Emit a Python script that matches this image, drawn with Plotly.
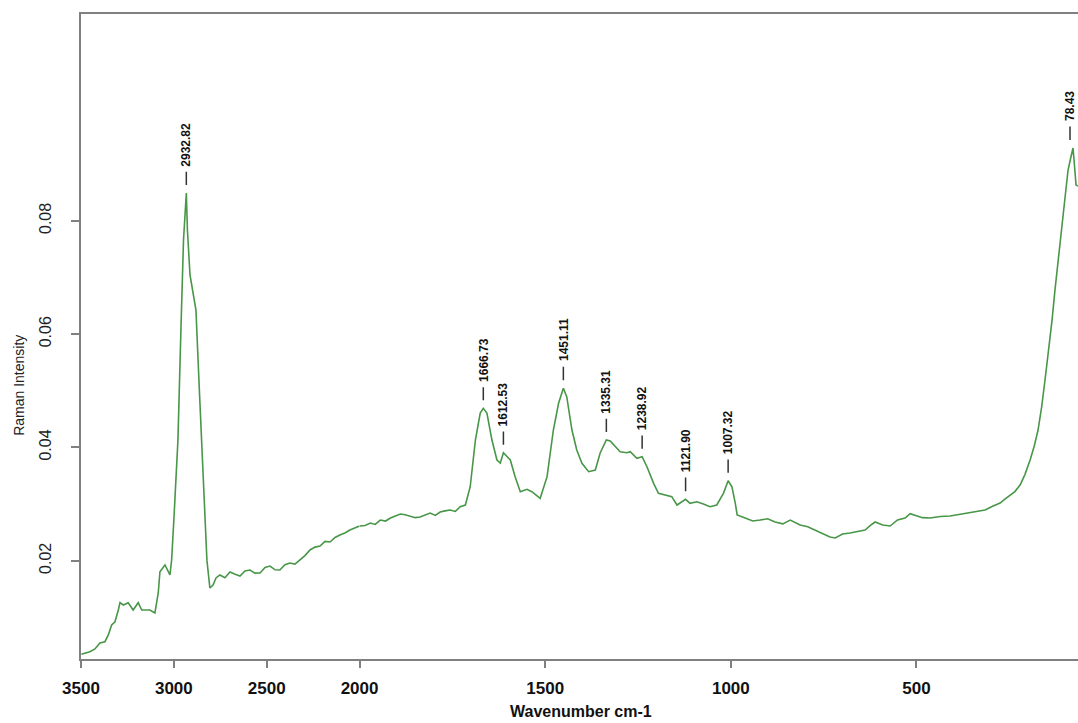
import plotly.graph_objects as go

# ---------------- data ----------------
wavenumber = [3498, 3452, 3425, 3398, 3371, 3353, 3335, 3317, 3299, 3290, 3272, 3246, 3219, 3192, 3173,
              3129, 3102, 3084, 3075, 3048, 3021, 3012, 3000, 2978, 2962, 2948, 2932.82, 2927, 2913, 2897,
              2881, 2865, 2843, 2822, 2806, 2789, 2773, 2752, 2725, 2698, 2670, 2644, 2617, 2590, 2563,
              2536, 2509, 2482, 2455, 2429, 2402, 2375, 2348, 2321, 2294, 2267, 2240, 2213, 2186, 2159,
              2132, 2106, 2079, 2052, 2026, 2000, 1985, 1971, 1958, 1944, 1930, 1917, 1903, 1890, 1877,
              1863, 1850, 1837, 1823, 1810, 1796, 1783, 1770, 1756, 1742, 1729, 1715, 1702, 1688, 1675,
              1666.73, 1657, 1643.5, 1630, 1621, 1612.53, 1594, 1581, 1567, 1549, 1536, 1513.5, 1495, 1478,
              1464, 1451.11, 1442, 1428, 1415, 1401, 1383, 1365, 1352, 1335.31, 1325, 1311.5, 1298, 1280,
              1271, 1253, 1238.92, 1226, 1208, 1195, 1177, 1159, 1145, 1121.90, 1110, 1091.5, 1074, 1056,
              1038, 1020, 1007.32, 997, 988, 983, 961.5, 941, 921, 901, 880.7, 860, 840, 827, 813.4, 793,
              773, 760, 746, 733, 719, 699, 679, 659, 638.4, 625, 611.5, 591, 571, 551, 530.7, 517, 504,
              484, 463.4, 436, 409.5, 383, 355.7, 335, 315.3, 295, 274.9, 261, 248, 235, 221, 208, 194,
              183, 172.6, 163, 153.8, 144, 134.9, 127, 118.7, 110, 102.6, 97, 91.8, 85, 78.43, 75.7, 70.3, 65]

intensity = [0.00348, 0.00394, 0.00442, 0.00547, 0.0057, 0.00689, 0.00865, 0.00923, 0.0113, 0.01259,
             0.01218, 0.01259, 0.0113, 0.01259, 0.0113, 0.0113, 0.01077, 0.0143, 0.01806, 0.01924,
             0.01748, 0.02012, 0.02718, 0.0413, 0.06072, 0.0766, 0.0849, 0.07837, 0.07043, 0.0669,
             0.06425, 0.0519, 0.03424, 0.0201, 0.01518, 0.01571, 0.01695, 0.01748, 0.0170, 0.018,
             0.0176, 0.0173, 0.0182, 0.01836, 0.0178, 0.01783, 0.0188, 0.01906, 0.0184, 0.01836,
             0.0193, 0.0196, 0.0194, 0.0201, 0.0209, 0.02189, 0.0224, 0.0226, 0.0234, 0.0233,
             0.0241, 0.02454, 0.0249, 0.02542, 0.0258, 0.02612, 0.0262, 0.02665, 0.0264, 0.02718,
             0.0270, 0.02754, 0.0279, 0.02824, 0.0281, 0.02789, 0.0276, 0.02771, 0.0281, 0.02842,
             0.0280, 0.0286, 0.0288, 0.02895, 0.0287, 0.02953, 0.02983, 0.03306, 0.0413, 0.04607,
             0.0469, 0.04607, 0.0413, 0.03777, 0.03724, 0.03906, 0.03777, 0.03483, 0.03218, 0.0326,
             0.03218, 0.03101, 0.03483, 0.04307, 0.04778, 0.05043, 0.04895, 0.04307, 0.03954, 0.03719,
             0.03571, 0.03601, 0.03901, 0.0413, 0.04113, 0.04012, 0.03924, 0.03906, 0.03924, 0.03807,
             0.03836, 0.03659, 0.03366, 0.0319, 0.0316, 0.0313, 0.02983, 0.03084, 0.03013, 0.03041,
             0.03001, 0.02953, 0.02983, 0.0319, 0.03412, 0.03306, 0.03013, 0.02807, 0.02754, 0.0270,
             0.02718, 0.0274, 0.02683, 0.0265, 0.02718, 0.0268, 0.0263, 0.0260, 0.02542, 0.0250,
             0.02454, 0.0242, 0.02401, 0.0247, 0.02489, 0.0251, 0.02542, 0.0262, 0.02683, 0.0263,
             0.02612, 0.0272, 0.02754, 0.0283, 0.02807, 0.0276, 0.02754, 0.0278, 0.02789, 0.0282,
             0.02842, 0.0287, 0.02895, 0.0296, 0.03018, 0.0309, 0.0316, 0.0322, 0.03336, 0.0352,
             0.03777, 0.0402, 0.04307, 0.0471, 0.0519, 0.0570, 0.06248, 0.0678, 0.07307, 0.0780,
             0.08278, 0.0859, 0.08896, 0.0910, 0.09284, 0.09072, 0.08631, 0.08613]

peak_wavenumber = [2932.82, 1666.73, 1612.53, 1451.11, 1335.31, 1238.92, 1121.90, 1007.32, 78.43]
peak_intensity = [0.0849, 0.0469, 0.03906, 0.05043, 0.0413, 0.03836, 0.03084, 0.03412, 0.09284]
peak_labels = ["2932.82", "1666.73", "1612.53", "1451.11", "1335.31", "1238.92", "1121.90", "1007.32", "78.43"]

xticks_left = [3500, 3000, 2500, 2000]
xticks_right = [1500, 1000, 500]
yticks = [0.02, 0.04, 0.06, 0.08]
ytick_text = ["0.02", "0.04", "0.06", "0.08"]

BREAK = 2000  # axis scale changes here (3500-2000 region is compressed)

# ---------------- figure ----------------
LINE = "rgb(72,150,72)"
AX = "#808080"
FONT = "Liberation Sans, Arial, sans-serif"

left_x = [w for w in wavenumber if w >= BREAK]
left_y = [v for w, v in zip(wavenumber, intensity) if w >= BREAK]
right_x = [w for w in wavenumber if w <= BREAK]
right_y = [v for w, v in zip(wavenumber, intensity) if w <= BREAK]

fig = go.Figure()
fig.add_trace(go.Scatter(x=left_x, y=left_y, mode="lines", xaxis="x", yaxis="y",
                         line=dict(color=LINE, width=1.6), showlegend=False, cliponaxis=True))
fig.add_trace(go.Scatter(x=right_x, y=right_y, mode="lines", xaxis="x2", yaxis="y",
                         line=dict(color=LINE, width=1.6), showlegend=False, cliponaxis=True))

split = 0.2794
common_x = dict(showline=True, linecolor=AX, linewidth=2, mirror=True, ticks="outside",
                ticklen=7, tickwidth=1.5, tickcolor=AX, showgrid=False, zeroline=False,
                tickfont=dict(family=FONT, size=17, color="#111", weight="bold"),
                ticklabelstandoff=6, automargin=False)

fig.update_layout(
    width=1078, height=723, autosize=False,
    margin=dict(l=81, r=0, t=14, b=64, pad=0, autoexpand=False),
    paper_bgcolor="white", plot_bgcolor="white",
    xaxis=dict(domain=[0, split], range=[3500, BREAK], tickvals=xticks_left, anchor="y", **common_x),
    xaxis2=dict(domain=[split, 1], range=[BREAK, 65], tickvals=xticks_right, anchor="y", **common_x),
    yaxis=dict(range=[0.00265, 0.1165], tickvals=yticks, ticktext=ytick_text, tickangle=-90,
               showline=True, linecolor=AX, linewidth=2, mirror=False, ticks="outside",
               ticklen=8, tickwidth=1.5, tickcolor=AX, showgrid=False, zeroline=False,
               tickfont=dict(family=FONT, size=16, color="#222"), ticklabelstandoff=14,
               anchor="x", automargin=False),
)

annotations = []
for w, v, lab in zip(peak_wavenumber, peak_intensity, peak_labels):
    fs = 12
    tw = sum(3.33 if ch == "." else 6.67 for ch in lab)
    annotations.append(dict(
        x=w, y=v, xref="x" if w >= BREAK else "x2", yref="y",
        text=lab, textangle=-90, showarrow=True, arrowhead=0, arrowwidth=1.5,
        arrowcolor="#333", ax=0, ay=-(27 + tw / 2), standoff=8, borderpad=5,
        xshift=-3 if w < 100 else 0,
        font=dict(family=FONT, size=fs, color="#111", weight="bold")))

annotations.append(dict(text="Wavenumber cm-1", xref="paper", yref="paper", x=0.5015, y=-0.082,
                        showarrow=False, xanchor="center", yanchor="middle",
                        font=dict(family=FONT, size=16, color="#111", weight="bold")))
annotations.append(dict(text="Raman Intensity", xref="paper", yref="paper", x=-0.0622, y=0.425,
                        showarrow=False, xanchor="center", yanchor="middle", textangle=-90,
                        font=dict(family=FONT, size=14, color="#222")))
fig.update_layout(annotations=annotations)

fig.write_html("out.html", config={"responsive": False})
